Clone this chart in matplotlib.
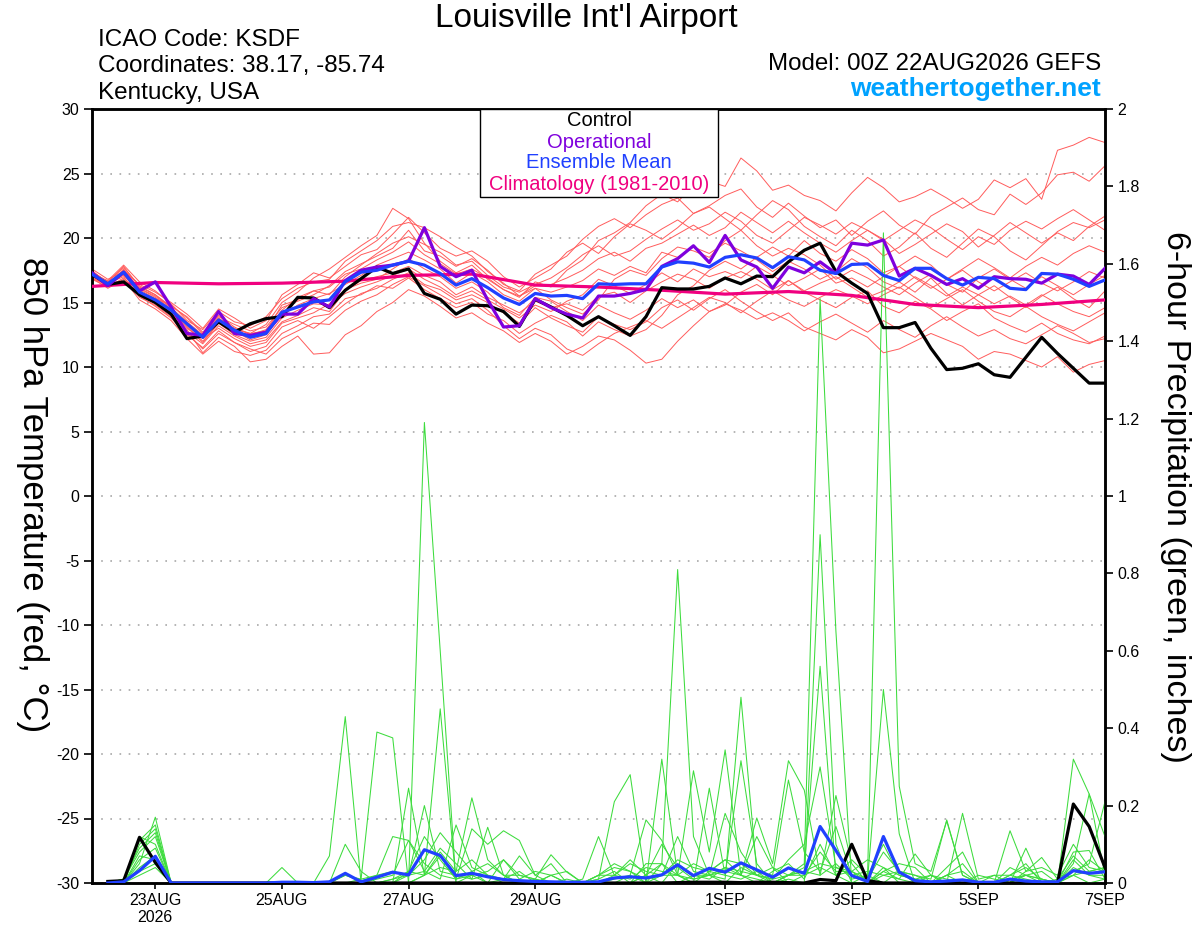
import numpy as np
import matplotlib
matplotlib.use('Agg')
import matplotlib.pyplot as plt
from matplotlib.patches import Rectangle

plt.rcParams['font.family'] = ['Liberation Sans', 'DejaVu Sans']

# ---------------- data ----------------
hours = np.arange(0, 385, 6)          # forecast hours from 00Z 22AUG2026
precip_hours = hours[1:]

tick_hours = [24, 72, 120, 168, 240, 288, 336, 384]
tick_labels = ['23AUG\n2026', '25AUG', '27AUG', '29AUG', '1SEP', '3SEP', '5SEP', '7SEP']
temp_ticks = [-30, -25, -20, -15, -10, -5, 0, 5, 10, 15, 20, 25, 30]
precip_ticks = [0, 0.2, 0.4, 0.6, 0.8, 1.0, 1.2, 1.4, 1.6, 1.8, 2.0]
precip_tick_labels = ['0', '0.2', '0.4', '0.6', '0.8', '1', '1.2', '1.4', '1.6', '1.8', '2']

control_temp = [17.2, 16.4, 16.6, 15.6, 15.0, 14.1, 12.2, 12.4, 13.5, 12.7, 13.35, 13.75,
                13.9, 15.4, 15.35, 14.6, 15.95, 16.85, 17.75, 17.25, 17.6, 15.7, 15.25, 14.1,
                14.8, 14.75, 14.3, 13.15, 15.25, 14.65, 14.0, 13.2, 13.9, 13.2, 12.45, 13.9,
                16.15, 16.05, 16.05, 16.25, 16.9, 16.45, 17.05, 17.0, 18.15, 19.05, 19.6, 17.4,
                16.5, 15.7, 13.05, 13.05, 13.45, 11.45, 9.8, 9.9, 10.25, 9.4, 9.2, 10.75,
                12.3, 11.05, 9.9, 8.75, 8.75]

oper_temp = [17.3, 16.3, 17.35, 15.9, 16.6, 14.65, 12.6, 12.45, 14.3, 12.6, 12.45, 12.7,
             14.1, 14.1, 15.3, 14.65, 16.7, 17.5, 17.75, 17.9, 18.2, 20.8, 17.8, 17.0,
             17.5, 15.2, 13.1, 13.2, 15.3, 14.6, 14.1, 13.8, 15.5, 15.5, 15.7, 16.0,
             17.8, 18.4, 19.4, 18.1, 20.2, 18.3, 17.75, 16.1, 17.75, 17.3, 18.15, 17.25,
             19.6, 19.45, 19.85, 17.05, 17.65, 17.1, 16.4, 16.85, 16.1, 17.0, 16.85, 16.8,
             16.5, 17.2, 17.05, 16.4, 17.65]

mean_temp = [17.2, 16.45, 17.35, 15.8, 15.2, 14.4, 13.35, 12.3, 13.65, 12.85, 12.3, 12.6,
             14.25, 14.65, 15.05, 15.2, 16.6, 17.35, 17.5, 17.9, 18.2, 17.9, 17.25, 16.35,
             16.85, 16.15, 15.35, 14.85, 15.7, 15.5, 15.55, 15.3, 16.45, 16.4, 16.45, 16.45,
             17.75, 18.15, 18.05, 17.75, 18.5, 18.7, 18.45, 17.7, 18.55, 18.3, 17.5, 17.25,
             17.95, 18.0, 17.1, 16.7, 17.65, 17.65, 16.85, 16.35, 16.95, 16.85, 16.1, 16.0,
             17.25, 17.2, 16.8, 16.25, 16.75]

clim_hours = [0, 24, 48, 72, 96, 120, 144, 168, 192, 216, 240, 264, 288, 312, 336, 360, 384]
clim_temp = [16.25, 16.55, 16.45, 16.5, 16.65, 17.1, 17.2, 16.35, 16.2, 15.95, 15.65,
             15.85, 15.55, 14.85, 14.6, 14.85, 15.2]

ens_temp_01 = [17.4, 16.6, 17.8, 16.2, 15.6, 14.6, 13.2, 12.0, 13.4, 12.9, 12.6, 13.3,
               15.0, 15.8, 16.9, 17.6, 18.5, 19.4, 20.2, 22.3, 21.5, 19.6, 18.2, 17.3,
               17.9, 16.8, 16.0, 15.4, 16.6, 16.2, 17.5, 18.3, 19.8, 20.4, 21.2, 22.5,
               23.4, 22.8, 24.1, 24.4, 24.0, 26.2, 25.2, 23.7, 24.1, 23.3, 22.9, 22.1,
               23.5, 24.7, 23.9, 22.8, 23.2, 23.8, 23.1, 22.3, 23.0, 24.5, 23.9, 24.6,
               23.0, 26.8, 27.2, 27.8, 27.4]
ens_temp_02 = [17.0, 16.3, 17.6, 16.0, 15.3, 14.8, 13.8, 12.6, 13.9, 13.3, 12.8, 13.1,
               14.6, 15.1, 15.6, 16.3, 17.4, 18.0, 18.6, 19.2, 20.6, 19.0, 18.6, 17.8,
               18.4, 17.5, 16.4, 15.9, 17.2, 17.9, 18.6, 19.9, 20.9, 21.5, 20.8, 21.8,
               22.6, 23.1, 21.9, 22.5, 23.3, 23.8, 22.4, 21.6, 22.7, 21.7, 20.8, 21.4,
               20.2, 21.3, 22.1, 21.0, 20.3, 21.7, 22.4, 23.1, 22.2, 21.8, 23.4, 22.6,
               23.5, 24.9, 25.1, 24.4, 25.6]
ens_temp_03 = [17.1, 16.5, 17.0, 15.4, 14.8, 13.9, 12.6, 11.4, 12.6, 11.9, 11.2, 11.6,
               13.1, 13.6, 13.0, 13.9, 14.9, 15.7, 16.1, 16.8, 17.3, 16.4, 16.0, 15.2,
               15.6, 15.0, 14.2, 13.4, 14.6, 13.8, 13.2, 12.7, 13.9, 13.3, 12.9, 13.5,
               14.6, 15.2, 14.4, 15.3, 16.0, 15.1, 14.3, 13.6, 14.2, 13.1, 12.6, 12.1,
               12.9, 12.3, 11.1, 11.4, 12.0, 12.6, 12.1, 11.6, 10.6, 11.2, 11.0, 10.5,
               10.0, 10.8, 9.6, 10.2, 10.5]
ens_temp_04 = [17.5, 16.4, 17.2, 15.6, 14.9, 14.0, 12.9, 11.1, 12.3, 11.6, 10.4, 10.6,
               11.6, 12.4, 11.0, 11.1, 12.5, 13.2, 14.3, 15.0, 16.0, 15.5, 14.7, 13.8,
               14.2, 13.4, 12.8, 11.9, 12.6, 12.0, 11.0, 11.6, 12.4, 12.1, 11.3, 10.3,
               10.6, 12.0, 13.2, 14.3, 14.8, 15.8, 16.4, 15.6, 16.7, 15.9, 16.5, 17.0,
               16.2, 15.4, 15.9, 16.6, 15.8, 16.9, 15.7, 14.8, 15.6, 16.3, 15.4, 14.6,
               15.5, 16.2, 15.3, 14.6, 15.9]
ens_temp_05 = [16.8, 16.2, 17.5, 16.4, 15.8, 15.0, 14.1, 13.0, 14.5, 13.8, 13.0, 13.6,
               15.6, 16.4, 17.3, 16.9, 17.8, 18.7, 19.1, 20.3, 21.6, 20.4, 19.2, 18.6,
               19.0, 18.2, 17.0, 16.2, 16.9, 17.6, 18.9, 19.6, 18.8, 20.1, 21.1, 20.6,
               19.9, 20.8, 21.9, 22.4, 21.5, 20.6, 21.8, 22.9, 22.2, 20.9, 20.1, 19.4,
               20.6, 19.8, 18.6, 19.3, 20.4, 19.2, 18.5, 19.6, 20.7, 20.1, 19.0, 18.3,
               19.4, 20.5, 21.2, 20.8, 21.4]
ens_temp_06 = [17.3, 16.6, 17.1, 15.9, 15.1, 14.1, 12.7, 11.8, 13.2, 12.4, 11.8, 12.1,
               13.5, 14.0, 14.6, 14.3, 15.9, 16.7, 17.0, 17.3, 17.8, 17.1, 16.6, 15.6,
               16.2, 15.4, 14.8, 14.2, 15.1, 14.6, 14.9, 14.4, 15.5, 15.8, 15.0, 15.9,
               16.6, 17.2, 16.8, 16.1, 16.9, 17.4, 16.8, 16.0, 16.7, 15.8, 15.2, 14.6,
               15.4, 15.9, 14.7, 14.2, 15.1, 14.5, 13.6, 14.3, 14.9, 13.8, 13.2, 12.7,
               13.4, 12.6, 12.1, 11.8, 12.4]
ens_temp_07 = [17.2, 16.7, 17.9, 16.6, 15.9, 14.9, 13.6, 12.9, 14.3, 13.5, 13.2, 13.9,
               15.3, 16.1, 16.6, 16.8, 18.2, 19.0, 19.8, 20.9, 21.2, 20.8, 20.1, 19.3,
               18.6, 17.4, 16.5, 15.5, 16.1, 15.2, 14.6, 14.1, 15.2, 16.8, 17.5, 17.1,
               18.4, 19.3, 19.0, 18.5, 19.8, 20.6, 19.4, 18.6, 19.2, 18.7, 17.9, 16.8,
               17.5, 16.9, 16.2, 15.6, 16.5, 17.2, 16.4, 15.8, 16.9, 17.6, 16.8, 16.1,
               17.0, 16.3, 15.6, 16.4, 17.1]
ens_temp_08 = [16.9, 16.1, 16.8, 15.2, 14.5, 13.6, 12.2, 11.0, 12.0, 11.2, 10.9, 11.3,
               12.6, 13.2, 13.9, 14.1, 15.3, 15.6, 16.3, 16.1, 16.9, 16.0, 15.3, 14.6,
               15.0, 14.1, 13.6, 12.6, 13.4, 14.0, 13.5, 12.4, 13.5, 12.9, 12.4, 12.9,
               14.0, 15.6, 16.3, 17.5, 18.2, 17.6, 18.5, 19.3, 18.6, 19.8, 18.8, 18.2,
               19.1, 18.4, 17.3, 17.8, 18.6, 17.9, 16.8, 17.6, 18.4, 17.7, 16.9, 17.8,
               18.5, 17.9, 18.8, 19.4, 18.9]
ens_temp_09 = [17.6, 16.8, 17.4, 16.1, 15.4, 14.5, 13.4, 12.4, 13.7, 12.8, 12.1, 12.5,
               14.0, 14.8, 15.3, 15.7, 16.4, 17.1, 17.9, 18.4, 18.9, 18.3, 17.6, 16.5,
               17.3, 16.6, 15.6, 15.1, 16.1, 15.8, 16.2, 16.7, 17.6, 17.1, 17.8, 17.3,
               18.9, 18.5, 19.3, 18.8, 19.6, 19.0, 18.3, 17.4, 18.2, 17.6, 16.8, 17.4,
               18.4, 17.7, 16.6, 16.1, 17.0, 16.3, 15.5, 16.2, 15.6, 14.9, 15.5, 14.8,
               15.6, 14.9, 14.3, 13.9, 14.6]
ens_temp_10 = [17.0, 16.4, 17.3, 15.7, 15.0, 14.2, 13.0, 12.2, 13.0, 12.2, 11.6, 11.9,
               13.4, 13.8, 14.2, 14.9, 16.0, 16.5, 16.8, 17.6, 18.4, 17.6, 17.0, 16.1,
               16.6, 15.8, 14.6, 14.0, 15.4, 15.1, 14.3, 13.6, 14.8, 14.2, 13.7, 14.4,
               15.3, 14.6, 15.2, 14.3, 14.9, 14.4, 13.7, 14.2, 13.6, 12.8, 13.5, 14.1,
               13.4, 12.7, 13.6, 12.9, 12.3, 13.2, 13.9, 13.1, 12.4, 12.9, 12.2, 11.8,
               12.5, 13.2, 12.6, 11.9, 12.2]
ens_temp_11 = [17.4, 16.6, 17.7, 16.3, 15.6, 14.7, 13.9, 12.7, 14.0, 13.1, 12.5, 12.9,
               14.4, 15.4, 15.9, 15.6, 17.0, 17.9, 18.8, 19.6, 20.1, 19.5, 18.9, 17.9,
               18.2, 17.1, 16.2, 15.8, 16.4, 16.9, 17.7, 18.7, 19.4, 18.6, 19.0, 19.9,
               20.7, 21.4, 20.6, 21.1, 22.0, 21.3, 20.2, 19.6, 20.6, 21.6, 21.0, 20.3,
               21.2, 20.6, 19.8, 20.6, 21.4, 20.8, 19.9, 19.1, 20.1, 19.5, 20.6, 21.3,
               20.7, 21.5, 22.2, 21.4, 20.6]
ens_temp_12 = [17.1, 16.2, 16.9, 15.5, 14.7, 13.8, 12.5, 11.5, 12.8, 11.9, 11.4, 11.0,
               12.2, 12.8, 13.4, 13.3, 14.4, 15.1, 15.6, 16.4, 17.0, 16.3, 15.6, 14.9,
               15.3, 14.4, 13.2, 12.2, 13.0, 12.5, 11.4, 10.9, 11.8, 12.6, 13.1, 13.6,
               13.0, 13.8, 14.6, 15.4, 15.0, 14.2, 15.1, 15.9, 15.2, 14.7, 15.4, 16.0,
               15.5, 14.9, 15.6, 16.2, 15.4, 14.6, 15.3, 16.0, 15.1, 14.3, 13.9, 14.7,
               13.9, 13.3, 12.8, 13.5, 14.2]
ens_temp_13 = [17.3, 16.5, 17.5, 16.1, 15.5, 14.6, 13.5, 12.5, 13.8, 13.0, 12.6, 12.8,
               14.8, 15.2, 15.9, 16.2, 17.2, 17.6, 18.3, 18.9, 19.7, 18.7, 18.0, 17.2,
               17.6, 16.9, 16.0, 15.5, 16.3, 16.4, 16.9, 17.5, 18.4, 18.9, 18.2, 19.2,
               19.6, 20.3, 21.0, 20.2, 20.8, 22.0, 21.2, 20.4, 21.3, 20.4, 19.6, 18.9,
               19.8, 20.6, 19.9, 18.8, 19.5, 20.3, 21.1, 20.5, 19.3, 20.2, 21.2, 20.4,
               19.6, 20.4, 19.8, 20.9, 21.7]
ens_temp_14 = [16.9, 16.3, 17.2, 15.6, 15.0, 14.3, 13.1, 11.9, 13.4, 12.5, 12.0, 12.3,
               13.8, 14.4, 14.9, 14.8, 15.7, 16.2, 16.6, 17.1, 17.6, 16.8, 16.2, 15.4,
               15.9, 15.2, 14.5, 13.8, 14.8, 14.3, 15.1, 15.6, 16.8, 16.3, 15.7, 16.4,
               17.3, 16.6, 17.6, 17.0, 17.4, 16.9, 17.8, 17.1, 16.3, 16.9, 17.6, 16.5,
               16.9, 16.2, 17.0, 17.8, 16.9, 16.1, 16.8, 17.5, 16.6, 15.9, 16.6, 17.3,
               16.5, 15.9, 16.6, 17.4, 16.9]

# 6-hour precipitation (inches), valid at hours 6..384
control_precip = [0.004, 0.006, 0.118, 0.053, 0, 0, 0, 0,
                  0, 0, 0, 0, 0, 0, 0, 0,
                  0, 0, 0, 0, 0, 0, 0, 0,
                  0, 0, 0, 0, 0, 0, 0, 0,
                  0, 0, 0, 0, 0.001, 0.002, 0.002, 0.002,
                  0.001, 0.002, 0.002, 0.001, 0, 0.009, 0.006, 0.10,
                  0.006, 0, 0, 0, 0, 0, 0, 0,
                  0, 0, 0, 0, 0, 0.204, 0.146, 0.04]
mean_precip = [0.0, 0.003, 0.032, 0.069, 0, 0, 0, 0,
               0, 0, 0, 0.002, 0.002, 0.001, 0.003, 0.025,
               0.003, 0.015, 0.028, 0.021, 0.086, 0.071, 0.019, 0.025,
               0.016, 0.009, 0.006, 0.004, 0.003, 0.002, 0.002, 0.003,
               0.013, 0.016, 0.013, 0.021, 0.047, 0.019, 0.038, 0.028,
               0.052, 0.034, 0.015, 0.039, 0.025, 0.146, 0.084, 0.019,
               0.004, 0.12, 0.028, 0.006, 0.003, 0.005, 0.008, 0.002,
               0.002, 0.01, 0.005, 0.003, 0.003, 0.032, 0.025, 0.029]

ens_precip_01 = [0, 0.01, 0.09, 0.13, 0, 0, 0, 0,
                 0, 0, 0, 0, 0, 0, 0, 0,
                 0, 0, 0, 0, 1.19, 0.60, 0, 0.02,
                 0, 0, 0, 0, 0, 0, 0, 0.01,
                 0.03, 0, 0.02, 0.05, 0, 0.02, 0.01, 0.04,
                 0.02, 0, 0.03, 0.05, 0.01, 0.10, 0.02, 0,
                 0, 0.04, 0, 0, 0, 0, 0, 0,
                 0, 0.01, 0, 0, 0, 0.06, 0.02, 0.01]
ens_precip_02 = [0, 0, 0.05, 0.17, 0, 0, 0, 0,
                 0, 0, 0, 0, 0, 0, 0.07, 0.43,
                 0, 0, 0.01, 0.02, 0.03, 0.01, 0.15, 0.04,
                 0.02, 0, 0, 0.01, 0, 0, 0, 0.01,
                 0.21, 0.28, 0, 0.05, 0.02, 0, 0.03, 0.06,
                 0.02, 0.01, 0, 0.02, 0.05, 1.51, 0.65, 0,
                 0.02, 0, 0.03, 0, 0, 0, 0, 0,
                 0, 0.02, 0.04, 0.01, 0, 0.03, 0.05, 0.21]
ens_precip_03 = [0.005, 0, 0.12, 0.10, 0, 0, 0, 0,
                 0, 0, 0, 0, 0, 0, 0, 0.02,
                 0.01, 0.39, 0.375, 0, 0.02, 0.45, 0, 0,
                 0, 0.01, 0, 0, 0.02, 0.03, 0, 0,
                 0.01, 0.02, 0, 0.32, 0.02, 0.01, 0.02, 0.01,
                 0.48, 0.03, 0, 0.02, 0.03, 0.02, 0.05, 0.01,
                 0.02, 1.68, 0.25, 0.05, 0.03, 0.16, 0.02, 0,
                 0, 0, 0.02, 0, 0, 0.02, 0, 0.01]
ens_precip_04 = [0, 0, 0.10, 0.14, 0, 0, 0, 0,
                 0, 0, 0, 0, 0, 0, 0, 0,
                 0, 0, 0, 0.245, 0.02, 0.08, 0.03, 0.22,
                 0.06, 0.02, 0, 0, 0, 0, 0, 0,
                 0, 0, 0.05, 0.05, 0.81, 0.12, 0.02, 0,
                 0.04, 0.02, 0, 0.01, 0, 0.90, 0.10, 0,
                 0, 0.03, 0.01, 0, 0, 0.02, 0.05, 0,
                 0, 0.01, 0.02, 0.03, 0, 0.05, 0.23, 0.02]
ens_precip_05 = [0, 0.01, 0.08, 0.12, 0, 0, 0, 0,
                 0, 0, 0, 0, 0, 0, 0, 0,
                 0.01, 0.02, 0.12, 0.11, 0.05, 0.02, 0.01, 0.14,
                 0.10, 0.135, 0.11, 0.02, 0, 0, 0, 0,
                 0, 0.02, 0.163, 0.11, 0.02, 0, 0.245, 0.02,
                 0.316, 0.05, 0, 0.02, 0.04, 0.56, 0.02, 0.03,
                 0.01, 0.50, 0.127, 0, 0.02, 0, 0.18, 0.01,
                 0.02, 0, 0.09, 0, 0, 0.08, 0.084, 0.01]
ens_precip_06 = [0, 0, 0.06, 0.09, 0, 0, 0, 0,
                 0, 0, 0, 0, 0, 0, 0, 0.02,
                 0.005, 0.02, 0.03, 0.02, 0.20, 0.03, 0.02, 0.01,
                 0.144, 0.02, 0.02, 0.01, 0.073, 0.028, 0, 0.02,
                 0.05, 0.03, 0.01, 0.02, 0.02, 0.29, 0.08, 0.344,
                 0.02, 0.168, 0.05, 0.316, 0.24, 0.02, 0.226, 0.05,
                 0, 0.02, 0.01, 0.075, 0.02, 0, 0, 0,
                 0, 0.135, 0.03, 0.066, 0.01, 0.02, 0.03, 0.04]
ens_precip_07 = [0.005, 0, 0.03, 0.05, 0, 0, 0, 0,
                 0, 0, 0, 0, 0, 0, 0, 0,
                 0, 0, 0.01, 0.03, 0.12, 0.06, 0.01, 0.02,
                 0.03, 0.06, 0.02, 0.01, 0, 0.01, 0, 0.02,
                 0.02, 0.05, 0.03, 0.02, 0.06, 0.04, 0.03, 0.02,
                 0.01, 0.03, 0.02, 0.266, 0.08, 0.03, 0.146, 0.02,
                 0.03, 0.02, 0.03, 0.02, 0.01, 0.163, 0.02, 0,
                 0, 0.02, 0.01, 0, 0, 0.32, 0.23, 0.12]
ens_precip_08 = [0, 0.01, 0.11, 0.15, 0, 0, 0, 0,
                 0, 0, 0, 0.04, 0, 0, 0, 0,
                 0, 0.01, 0.02, 0.11, 0.03, 0.09, 0.05, 0.01,
                 0.02, 0.01, 0.07, 0.02, 0.05, 0, 0, 0,
                 0.02, 0.01, 0.04, 0.03, 0.02, 0.05, 0.03, 0.06,
                 0.05, 0.02, 0.04, 0.02, 0.03, 0.05, 0.04, 0.03,
                 0.06, 0.04, 0.02, 0.01, 0, 0.04, 0.08, 0,
                 0.02, 0.02, 0.05, 0, 0.01, 0.07, 0.03, 0.04]
ens_precip_09 = [0, 0, 0.04, 0.07, 0, 0, 0, 0,
                 0, 0, 0, 0, 0, 0, 0, 0.10,
                 0.03, 0, 0, 0.02, 0.06, 0.13, 0.08, 0.03,
                 0, 0.06, 0.01, 0.03, 0.02, 0, 0.01, 0.12,
                 0.02, 0.06, 0.02, 0.10, 0.04, 0.01, 0.02, 0.18,
                 0.08, 0.02, 0.01, 0.06, 0.10, 0.30, 0.04, 0.02,
                 0.01, 0.08, 0.03, 0.02, 0, 0.02, 0.03, 0,
                 0, 0.04, 0.02, 0.01, 0, 0.04, 0.02, 0.02]
ens_precip_10 = [0, 0, 0.02, 0.04, 0, 0, 0, 0,
                 0, 0, 0, 0, 0, 0, 0, 0,
                 0, 0, 0, 0, 0.02, 0.04, 0.03, 0.06,
                 0.02, 0.01, 0.03, 0, 0, 0, 0, 0.02,
                 0.04, 0.03, 0, 0.02, 0.12, 0.03, 0.02, 0.04,
                 0.03, 0.02, 0.01, 0.02, 0.02, 0.04, 0.02, 0.06,
                 0.02, 0.10, 0.02, 0.01, 0.02, 0.01, 0, 0.02,
                 0.01, 0, 0.03, 0.04, 0.02, 0.10, 0.04, 0.03]
ens_precip_11 = [0, 0, 0.07, 0.06, 0, 0, 0, 0,
                 0, 0, 0, 0, 0, 0, 0, 0,
                 0, 0, 0, 0.03, 0.02, 0.07, 0.01, 0.03,
                 0.05, 0.02, 0, 0, 0.02, 0, 0, 0,
                 0, 0, 0.02, 0, 0.05, 0.02, 0.02, 0.03,
                 0.02, 0.12, 0.04, 0, 0.02, 0.08, 0.03, 0.03,
                 0, 0.03, 0.05, 0.04, 0, 0.02, 0, 0,
                 0, 0.01, 0.02, 0.01, 0, 0.02, 0.06, 0.03]

ens_temp = [ens_temp_01, ens_temp_02, ens_temp_03, ens_temp_04, ens_temp_05,
            ens_temp_06, ens_temp_07, ens_temp_08, ens_temp_09, ens_temp_10,
            ens_temp_11, ens_temp_12, ens_temp_13, ens_temp_14]
ens_precip = [ens_precip_01, ens_precip_02, ens_precip_03, ens_precip_04,
              ens_precip_05, ens_precip_06, ens_precip_07, ens_precip_08,
              ens_precip_09, ens_precip_10, ens_precip_11]

# ---------------- styles ----------------
C_RED = '#ff5c5c'
C_GREEN = '#3ddc3d'
C_CONTROL = '#000000'
C_OPER = '#7f00dd'
C_MEAN = '#2040ff'
C_CLIM = '#f0007f'
C_WEB = '#00a2ff'

W, H = 1200, 927
fig = plt.figure(figsize=(W / 100, H / 100), dpi=100)
L, R, T, B = 92, 1105, 109, 883
rect = [L / W, 1 - B / H, (R - L) / W, (B - T) / H]

ax = fig.add_axes(rect)            # temperature: ensemble members, grid, left axis
ax2 = ax.twinx()                   # precipitation
ax3 = fig.add_axes(rect, sharex=ax)  # temperature: highlighted lines on top
ax3.set_zorder(ax2.get_zorder() + 1)
ax3.patch.set_visible(False)

for m in ens_temp:
    ax.plot(hours, m, color=C_RED, lw=0.7, zorder=2)

for m in ens_precip:
    ax2.plot(precip_hours, m, color=C_GREEN, lw=0.75, zorder=2)
ax2.plot(precip_hours, control_precip, color=C_CONTROL, lw=2.3, zorder=4)
ax2.plot(precip_hours, mean_precip, color=C_MEAN, lw=2.3, zorder=5)

ax3.plot(clim_hours, clim_temp, color=C_CLIM, lw=2.3, zorder=3)
ax3.plot(hours, control_temp, color=C_CONTROL, lw=2.3, zorder=4)
ax3.plot(hours, oper_temp, color=C_OPER, lw=2.3, zorder=5)
ax3.plot(hours, mean_temp, color=C_MEAN, lw=2.3, zorder=6)

# axes limits / ticks
ax.set_xlim(0, 384)
ax.set_ylim(-30, 30)
ax3.set_ylim(-30, 30)
ax2.set_ylim(0, 2)

ax.set_yticks(temp_ticks)
ax.set_yticklabels([str(v) for v in temp_ticks])
ax2.set_yticks(precip_ticks)
ax2.set_yticklabels(precip_tick_labels)
ax.set_xticks(tick_hours)
ax.set_xticklabels(tick_labels, linespacing=1.15)

ax.tick_params(axis='y', direction='out', length=6, width=1.2, labelsize=11.5, pad=3)
ax2.tick_params(axis='y', direction='out', length=6, width=1.2, labelsize=11.5, pad=3)
ax.tick_params(axis='x', direction='out', length=4, width=1.2, labelsize=11.5, pad=3)
ax3.tick_params(left=False, right=False, bottom=False, top=False,
                labelleft=False, labelbottom=False)
for s in ax3.spines.values():
    s.set_visible(False)

ax.yaxis.grid(True, linestyle=(0, (1, 4.5)), color='#a8a8a8', lw=1.2)
ax.set_axisbelow(True)

for a in (ax, ax2):
    for s in a.spines.values():
        s.set_linewidth(1.8)

# legend box
ax3.add_patch(Rectangle(((480 - L) / (R - L), 1 - (197 - T) / (B - T)),
                        (718 - 480) / (R - L), (197 - T) / (B - T),
                        transform=ax3.transAxes, facecolor='white',
                        edgecolor='black', lw=1.0, zorder=20, clip_on=False))
leg_items = [('Control', C_CONTROL, 121), ('Operational', C_OPER, 142),
             ('Ensemble Mean', C_MEAN, 163), ('Climatology (1981-2010)', C_CLIM, 185)]
for txt, col, ypx in leg_items:
    fig.text(599 / W, 1 - ypx / H, txt, color=col, fontsize=14.5,
             ha='center', va='center', zorder=30)

# header texts
fig.text(586 / W, 1 - 19 / H, "Louisville Int'l Airport", fontsize=24,
         ha='center', va='center')
fig.text(98 / W, 1 - 40 / H, 'ICAO Code: KSDF', fontsize=17.5, ha='left', va='center')
fig.text(98 / W, 1 - 66 / H, 'Coordinates: 38.17, -85.74', fontsize=17.5, ha='left', va='center')
fig.text(98 / W, 1 - 93 / H, 'Kentucky, USA', fontsize=17.5, ha='left', va='center')
fig.text(1101 / W, 1 - 64 / H, 'Model: 00Z 22AUG2026 GEFS', fontsize=17.4,
         ha='right', va='center')
fig.text(1101 / W, 1 - 89 / H, 'weathertogether.net', fontsize=19, fontweight='bold',
         color=C_WEB, ha='right', va='center')

# axis titles
fig.text(32 / W, 1 - 495 / H, '850 hPa Temperature (red, °C)', fontsize=25,
         rotation=-90, ha='center', va='center')
fig.text(1175 / W, 1 - 497 / H, '6-hour Precipitation (green, inches)', fontsize=24.5,
         rotation=-90, ha='center', va='center')

fig.savefig('out.png', dpi=100, facecolor='white')
